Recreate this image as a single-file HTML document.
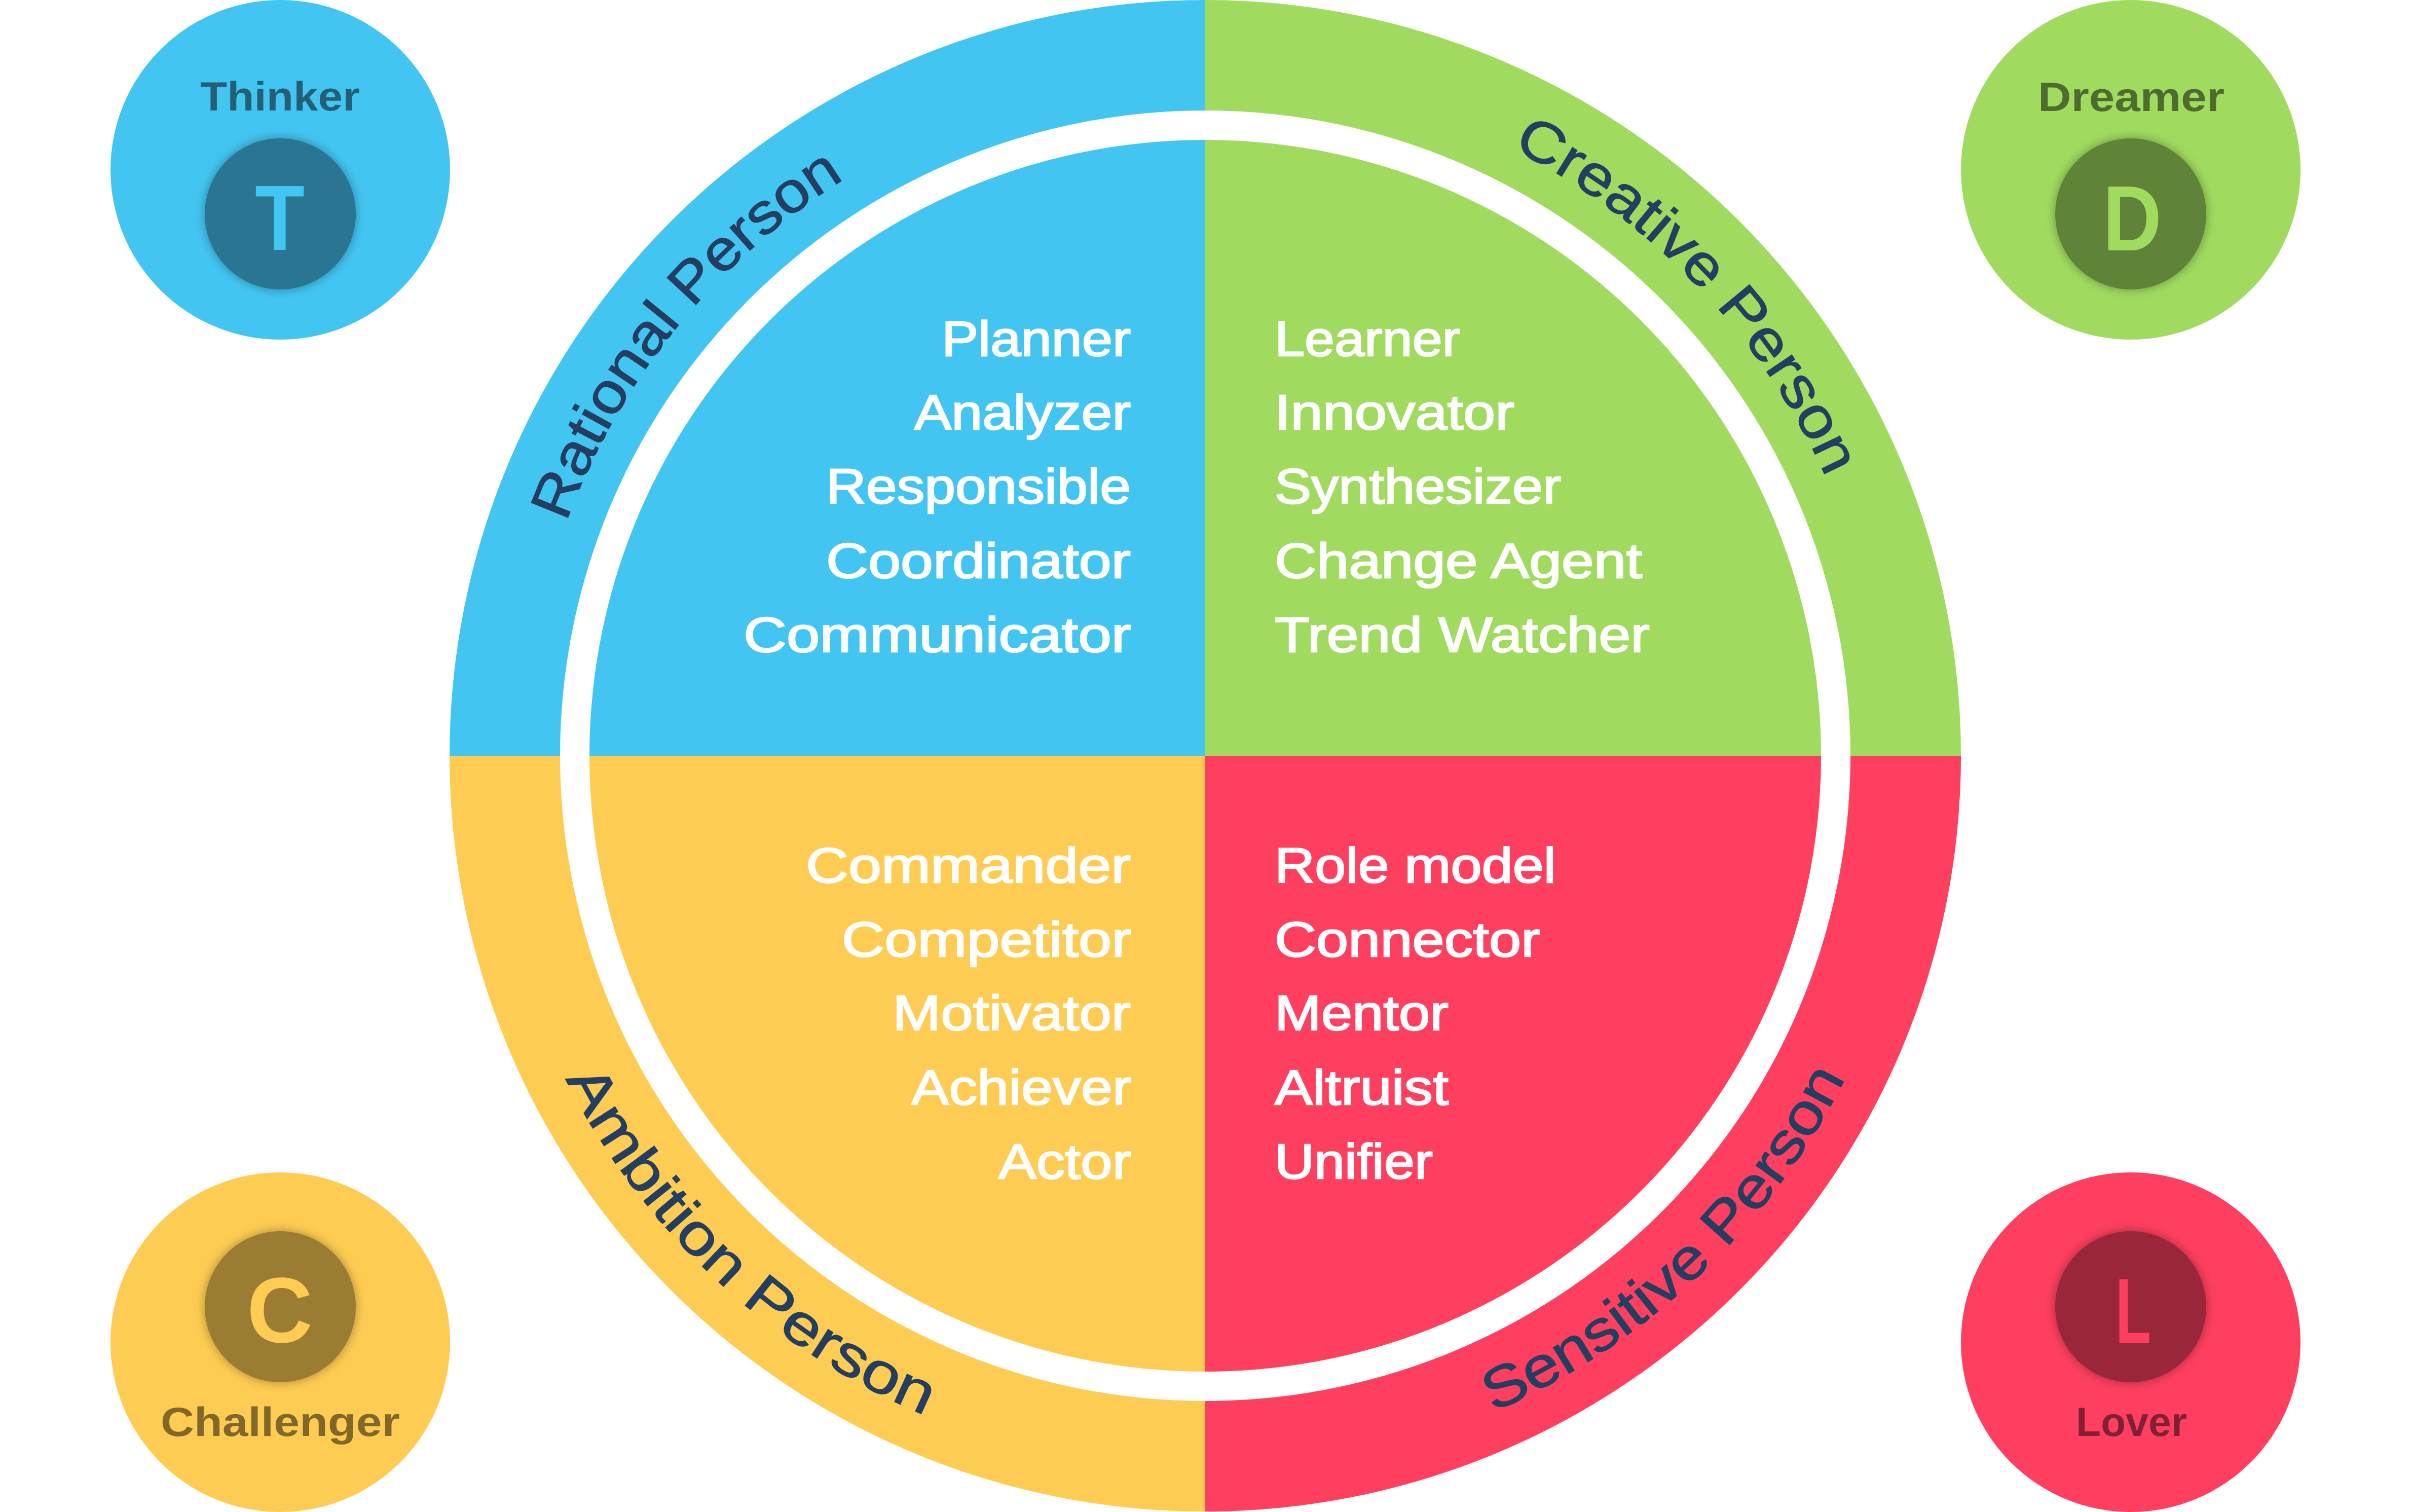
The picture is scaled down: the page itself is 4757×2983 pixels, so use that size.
<!DOCTYPE html>
<html>
<head>
<meta charset="utf-8">
<style>
  html, body { margin: 0; padding: 0; background: #ffffff; }
  svg { display: block; }
  text { font-family: "Liberation Sans", "DejaVu Sans", sans-serif; }
</style>
</head>
<body>
<svg xmlns="http://www.w3.org/2000/svg" width="4757" height="2983" viewBox="0 0 4757 2983">
  <defs>
    <filter id="sh" x="-30%" y="-30%" width="160%" height="160%">
      <feDropShadow dx="0" dy="0" stdDeviation="10" flood-color="#000" flood-opacity="0.35"/>
    </filter>
    <path id="pRational" d="M1117.5,1030.4 A1342,1342 0 0 1 1919.0,229.9"/>
    <path id="pCreative" d="M2983.1,293.1 A1342,1342 0 0 1 3699.6,1258.0"/>
    <path id="pAmbition" d="M1115.9,2128.3 A1414,1414 0 0 0 2132.5,2883.5"/>
    <path id="pSensitive" d="M2946.3,2785.8 A1414,1414 0 0 0 3743.8,1857.0"/>
  </defs>

  <rect x="0" y="0" width="4757" height="2983" fill="#ffffff"/>

  <!-- Main quadrants -->
  <path d="M2378,1491 L887,1491 A1491,1491 0 0 1 2378,0 Z" fill="#43C5F2"/>
  <path d="M2378,1491 L2378,0 A1491,1491 0 0 1 3869,1491 Z" fill="#A0DB5F"/>
  <path d="M2378,1491 L3869,1491 A1491,1491 0 0 1 2378,2982 Z" fill="#FF3F5F"/>
  <path d="M2378,1491 L2378,2982 A1491,1491 0 0 1 887,1491 Z" fill="#FECC52"/>
  <!-- white ring -->
  <circle cx="2378" cy="1491" r="1244" fill="none" stroke="#ffffff" stroke-width="58"/>

  <!-- Curved labels -->
  <g fill="#243E61" stroke="#243E61" stroke-width="1.5" font-size="113">
    <text><textPath href="#pRational" textLength="888" lengthAdjust="spacingAndGlyphs">Rational Person</textPath></text>
    <text><textPath href="#pCreative" textLength="915" lengthAdjust="spacingAndGlyphs">Creative Person</textPath></text>
    <text><textPath href="#pAmbition" textLength="992" lengthAdjust="spacingAndGlyphs">Ambition Person</textPath></text>
    <text><textPath href="#pSensitive" textLength="977" lengthAdjust="spacingAndGlyphs">Sensitive Person</textPath></text>
  </g>

  <!-- Quadrant texts -->
  <g fill="#ffffff" stroke="#ffffff" stroke-width="2.5" font-size="97">
    <text x="1858" y="702" textLength="373" lengthAdjust="spacingAndGlyphs">Planner</text>
    <text x="1804" y="847" textLength="427" lengthAdjust="spacingAndGlyphs">Analyzer</text>
    <text x="1630" y="993" textLength="601" lengthAdjust="spacingAndGlyphs">Responsible</text>
    <text x="1630" y="1140" textLength="601" lengthAdjust="spacingAndGlyphs">Coordinator</text>
    <text x="1467" y="1286" textLength="765" lengthAdjust="spacingAndGlyphs">Communicator</text>

    <text x="2515" y="702" textLength="366" lengthAdjust="spacingAndGlyphs">Learner</text>
    <text x="2515" y="847" textLength="473" lengthAdjust="spacingAndGlyphs">Innovator</text>
    <text x="2515" y="993" textLength="565" lengthAdjust="spacingAndGlyphs">Synthesizer</text>
    <text x="2515" y="1140" textLength="725" lengthAdjust="spacingAndGlyphs">Change Agent</text>
    <text x="2515" y="1286" textLength="740" lengthAdjust="spacingAndGlyphs">Trend Watcher</text>

    <text x="1590" y="1741" textLength="641" lengthAdjust="spacingAndGlyphs">Commander</text>
    <text x="1661" y="1887" textLength="571" lengthAdjust="spacingAndGlyphs">Competitor</text>
    <text x="1761" y="2032" textLength="470" lengthAdjust="spacingAndGlyphs">Motivator</text>
    <text x="1798" y="2179" textLength="434" lengthAdjust="spacingAndGlyphs">Achiever</text>
    <text x="1970" y="2325" textLength="262" lengthAdjust="spacingAndGlyphs">Actor</text>

    <text x="2515" y="1741" textLength="555" lengthAdjust="spacingAndGlyphs">Role model</text>
    <text x="2515" y="1887" textLength="524" lengthAdjust="spacingAndGlyphs">Connector</text>
    <text x="2515" y="2032" textLength="343" lengthAdjust="spacingAndGlyphs">Mentor</text>
    <text x="2515" y="2179" textLength="343" lengthAdjust="spacingAndGlyphs">Altruist</text>
    <text x="2515" y="2325" textLength="312" lengthAdjust="spacingAndGlyphs">Unifier</text>
  </g>

  <!-- Thinker -->
  <circle cx="553" cy="335" r="335" fill="#43C5F2"/>
  <circle cx="553" cy="422" r="149" fill="#2A7591" filter="url(#sh)"/>
  <text x="395" y="218" font-size="81" font-weight="bold" fill="#236078" textLength="315" lengthAdjust="spacingAndGlyphs">Thinker</text>
  <text x="503" y="493" font-size="183" font-weight="bold" fill="#43C5F2" textLength="98" lengthAdjust="spacingAndGlyphs">T</text>

  <!-- Dreamer -->
  <circle cx="4204" cy="335" r="335" fill="#A0DB5F"/>
  <circle cx="4204" cy="422" r="149" fill="#5F8338" filter="url(#sh)"/>
  <text x="4021" y="219" font-size="81" font-weight="bold" fill="#4E6C2D" textLength="368" lengthAdjust="spacingAndGlyphs">Dreamer</text>
  <text x="4149" y="494" font-size="183" font-weight="bold" fill="#A0DB5F" textLength="116" lengthAdjust="spacingAndGlyphs">D</text>

  <!-- Challenger -->
  <circle cx="553" cy="2648" r="335" fill="#FECC52"/>
  <circle cx="553" cy="2578" r="149" fill="#9A7C33" filter="url(#sh)"/>
  <text x="487" y="2648" font-size="183" font-weight="bold" fill="#FECC52" textLength="130" lengthAdjust="spacingAndGlyphs">C</text>
  <text x="317" y="2833" font-size="81" font-weight="bold" fill="#81672A" textLength="472" lengthAdjust="spacingAndGlyphs">Challenger</text>

  <!-- Lover -->
  <circle cx="4204" cy="2648" r="335" fill="#FF3F5F"/>
  <circle cx="4204" cy="2578" r="149" fill="#99253B" filter="url(#sh)"/>
  <text x="4174" y="2650" font-size="183" font-weight="bold" fill="#FF3F5F" textLength="70" lengthAdjust="spacingAndGlyphs">L</text>
  <text x="4096" y="2833" font-size="81" font-weight="bold" fill="#821F34" textLength="219" lengthAdjust="spacingAndGlyphs">Lover</text>
</svg>
</body>
</html>
